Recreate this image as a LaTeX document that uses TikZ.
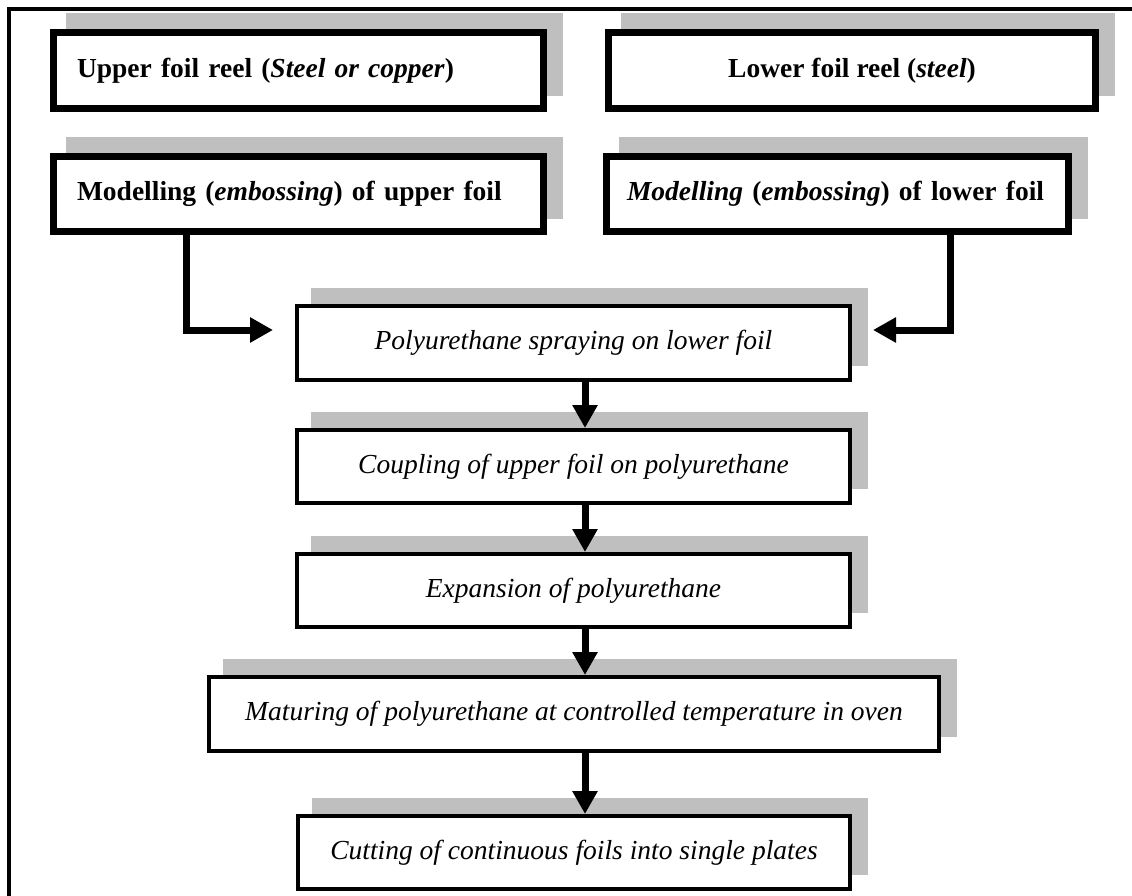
\documentclass[tikz,border=0pt]{standalone}
\usepackage{fontspec}
\setmainfont{Liberation Serif}
\usetikzlibrary{arrows.meta,backgrounds,calc}
\definecolor{shadowgray}{HTML}{BFBFBF}
\tikzset{
  thickbox/.style={draw=black, line width=7pt, fill=white, inner sep=0pt, minimum height=76pt, font=\bfseries\fontsize{27.5}{31}\selectfont},
  thinbox/.style={draw=black, line width=4pt, fill=white, inner sep=0pt, minimum height=73pt, font=\itshape\fontsize{27.5}{31}\selectfont},
  flow/.style={line width=7pt, -{Triangle[length=23pt,width=24pt]}},
  shade/.style={fill=shadowgray}
}
\begin{document}
\begin{tikzpicture}[x=1pt,y=-1pt]
\useasboundingbox (0,0) rectangle (1132,896);
% outer frame (left and top edges visible)
\draw[line width=4pt] (8.5,900) -- (8.5,9) -- (1136,9);

\node[thickbox, text width=443pt, inner xsep=23.5pt, align=left] (b1) at (298.5,70.5) {Upper foil reel (\textit{Steel or copper})};
\node[thickbox, minimum width=487pt] (b2) at (852,70.5) {Lower foil reel (\textit{steel})};
\node[thickbox, minimum height=75pt, text width=443pt, inner xsep=23.5pt, align=left] (b3) at (298.5,194) {Modelling (\textit{embossing}) of upper foil};
\node[thickbox, minimum height=75pt, text width=421pt, inner xsep=20.5pt, align=left] (b4) at (837.5,194) {\textit{Modelling} (\textit{embossing}) of lower foil};

\node[thinbox, minimum width=553pt, minimum height=74pt] (b5) at (573.5,343) {Polyurethane spraying on lower foil};
\node[thinbox, minimum width=553pt] (b6) at (573.5,466.5) {Coupling of upper foil on polyurethane};
\node[thinbox, minimum width=553pt] (b7) at (573.5,590.5) {Expansion of polyurethane};
\node[thinbox, minimum width=730pt, minimum height=74pt] (b8) at (574,714) {Maturing of polyurethane at controlled temperature in oven};
\node[thinbox, minimum width=552pt] (b9) at (574,852.5) {Cutting of continuous foils into single plates};

\begin{scope}[on background layer]
  \foreach \b in {b1,b2,b3,b4,b5,b6,b7,b8,b9}
    \fill[shade] ($(\b.south west)+(16,-16)$) rectangle ($(\b.north east)+(16,-16)$);
\end{scope}

% side feeds
\coordinate (tL) at (186,330);
\coordinate (inL) at (273,330);
\coordinate (tR) at (950,330);
\coordinate (inR) at (873,330);
\draw[flow] (b3.south -| tL) -- (tL) -- (inL);
\draw[flow] (b4.south -| tR) -- (tR) -- (inR);

% main chain
\coordinate (ax) at (585,0);
\draw[flow] (b5.south -| ax) -- (b6.north -| ax);
\draw[flow] (b6.south -| ax) -- (b7.north -| ax);
\draw[flow] (b7.south -| ax) -- (b8.north -| ax);
\draw[flow] (b8.south -| ax) -- (b9.north -| ax);
\end{tikzpicture}
\end{document}
